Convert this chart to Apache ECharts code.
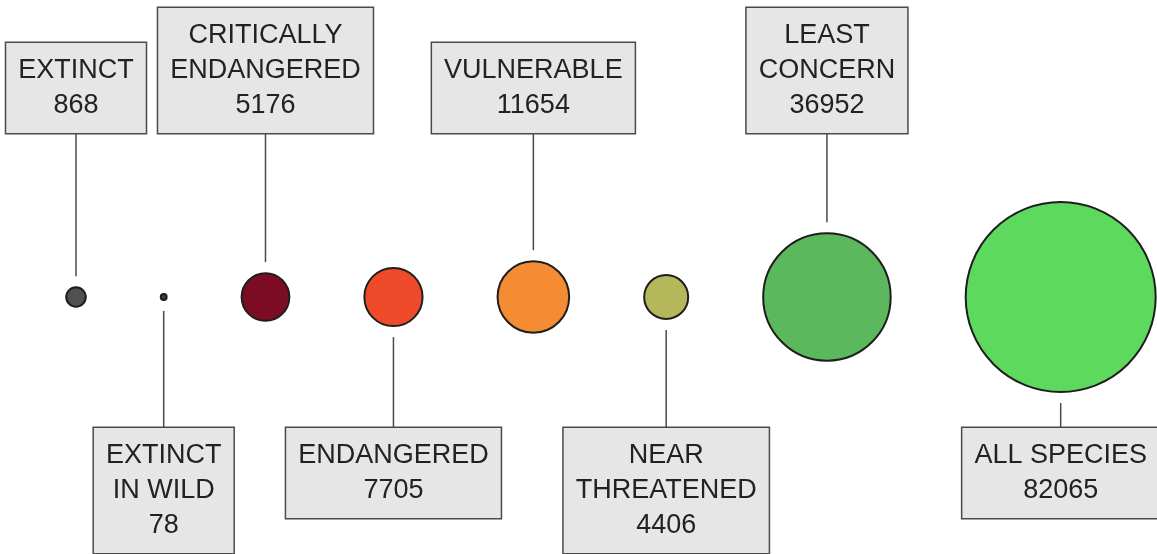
<!DOCTYPE html>
<html>
<head>
<meta charset="utf-8">
<script src="https://cdn.jsdelivr.net/npm/echarts@6/dist/echarts.min.js"></script>
<style>
	html, body { margin: 0; padding: 0; background: #fff; }
	#chart01 { width: 1157px; height: 554px; }
</style>
</head>
<body>
<div id="chart01"></div>
<script>
// 카테고리 (라벨)
const categories = ['EXTINCT', 'EXTINCT\nIN WILD', 'CRITICALLY\nENDANGERED', 'ENDANGERED', 'VULNERABLE', 'NEAR\nTHREATENED', 'LEAST\nCONCERN', 'ALL SPECIES'];
// 종 수
const speciesCounts = [868, 78, 5176, 7705, 11654, 4406, 36952, 82065];
// 원 색상
const circleColors = ['#505050', '#3c3c3c', '#7b0c24', '#ef4a2a', '#f58b32', '#b5b85a', '#5cb85c', '#5dd95d'];

const CHART = {
	maxRadius: 95,   // 가장 큰 원의 반지름(px)
	gap: 75,         // 원 사이 간격
	startX: 76,
	boxTop: 164,     // 위쪽 박스 하단 (중심선 기준)
	boxBottom: -131, // 아래쪽 박스 상단 (중심선 기준)
	lineGap: 11,

	// 면적이 값에 비례하도록 반지름 계산 후 가로로 나열
	buildData: function() {
		const k = this.maxRadius / Math.sqrt(Math.max(...speciesCounts));
		const radii = speciesCounts.map(v => k * Math.sqrt(v));
		let x = this.startX;
		return speciesCounts.map((v, i) => {
			if (i > 0) x += radii[i - 1] + this.gap + radii[i];
			return [x, radii[i], v];
		});
	},

	renderItem: function(params, api) {
		const idx = params.dataIndex;
		const x = api.value(0);
		const c = api.coord([x, 0]);
		const r = api.size([api.value(1), 0])[0];
		const above = idx % 2 === 0;
		const boxY = api.coord([x, above ? CHART.boxTop : CHART.boxBottom])[1];
		const lineY1 = above ? c[1] - r - CHART.lineGap : c[1] + r + CHART.lineGap;

		return {
			type: 'group',
			children: [
				{
					type: 'line',
					shape: { x1: c[0], y1: boxY, x2: c[0], y2: lineY1 },
					style: { stroke: '#4a4a4a', lineWidth: 1.5 }
				},
				{
					type: 'circle',
					shape: { cx: c[0], cy: c[1], r: r },
					style: { fill: circleColors[idx], stroke: '#1e1e1e', lineWidth: 2 }
				},
				{
					type: 'text',
					x: c[0],
					y: boxY,
					style: {
						text: categories[idx] + '\n' + api.value(2),
						align: 'center',
						verticalAlign: above ? 'bottom' : 'top',
						font: '27px "Liberation Sans", Arial, sans-serif',
						fill: '#222',
						lineHeight: 35,
						backgroundColor: '#e6e6e6',
						borderColor: '#4a4a4a',
						borderWidth: 1.5,
						padding: [10, 12]
					}
				}
			]
		};
	},

	init: function() {
		const option = {
			animation: false,
			grid: { left: 0, right: 0, top: 0, bottom: 0 },
			xAxis: { type: 'value', min: 0, max: 1157, show: false },
			yAxis: { type: 'value', min: -257, max: 297, show: false },
			series: [
				{
					type: 'custom',
					renderItem: this.renderItem,
					clip: false,
					data: this.buildData()
				}
			]
		};

		const myChart = echarts.init(document.getElementById('chart01'), null, { renderer: 'canvas' });
		myChart.setOption(option);
		window.addEventListener('resize', myChart.resize);
	}
};

CHART.init();
</script>
</body>
</html>
